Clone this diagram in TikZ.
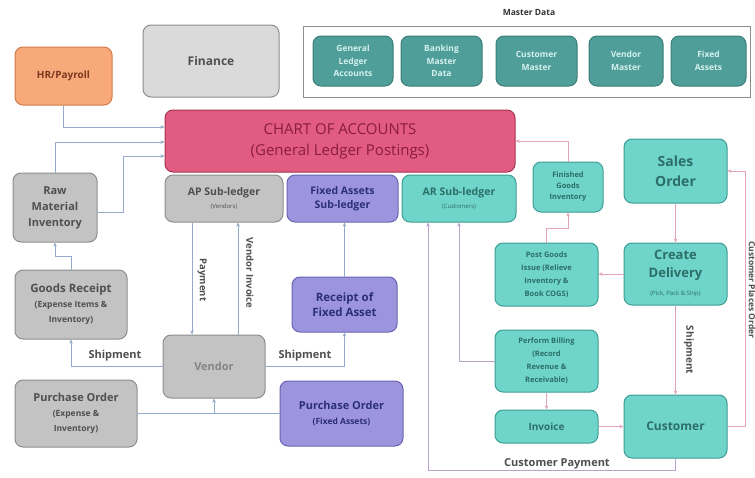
\documentclass[tikz,border=0pt]{standalone}
\usepackage{fontspec}
\setmainfont{Open Sans}
\usetikzlibrary{arrows.meta}
\definecolor{grayF}{HTML}{C3C3C3}
\definecolor{grayD}{HTML}{8E8E8E}
\definecolor{grayT}{HTML}{4F4F4F}
\definecolor{finF}{HTML}{DADADA}
\definecolor{tealDF}{HTML}{4F9E99}
\definecolor{tealDD}{HTML}{3C7E79}
\definecolor{tealDT}{HTML}{D5F1EE}
\definecolor{tealLF}{HTML}{6FD4CA}
\definecolor{tealLD}{HTML}{3E9E95}
\definecolor{tealLT}{HTML}{2C6E68}
\definecolor{purF}{HTML}{9C95DD}
\definecolor{purD}{HTML}{6B63B0}
\definecolor{purT}{HTML}{2B2F78}
\definecolor{pinkF}{HTML}{E25C82}
\definecolor{pinkD}{HTML}{A6334F}
\definecolor{pinkT}{HTML}{8A1C3E}
\definecolor{orF}{HTML}{F7A97A}
\definecolor{orD}{HTML}{D27C47}
\definecolor{orT}{HTML}{7A3820}
\definecolor{lineB}{HTML}{93AACB}
\definecolor{lineP}{HTML}{E3A3BE}
\definecolor{lineV}{HTML}{B5A3CC}
\newcommand\myfs[2]{\fontsize{#1}{#2}\selectfont}
\tikzset{
  box/.style={draw, line width=1pt, rounded corners=8pt, align=center, inner sep=1pt, font=\bfseries},
  gbox/.style={box, fill=grayF, draw=grayD, text=grayT},
  mbox/.style={box, fill=tealDF, draw=tealDD, text=tealDT, font=\bfseries\myfs{8.5}{12.5}, minimum width=80pt, minimum height=50pt},
  tbox/.style={box, fill=tealLF, draw=tealLD, text=tealLT},
  pbox/.style={box, fill=purF, draw=purD, text=purT},
  lconn/.style={draw=lineB, line width=0.8pt, -{Stealth[length=4pt,width=3.5pt]}},
  lline/.style={draw=lineB, line width=0.8pt},
  rconn/.style={draw=lineP, line width=0.8pt, -{Stealth[length=4pt,width=3.5pt]}},
  rline/.style={draw=lineP, line width=0.8pt},
  vconn/.style={draw=lineV, line width=0.8pt, -{Stealth[length=4pt,width=3.5pt]}},
  lab/.style={font=\bfseries, text=grayT, inner sep=1pt},
}
\begin{document}
\begin{tikzpicture}[x=1pt, y=-1pt]
\useasboundingbox[fill=white] (0,0) rectangle (755,477);

% top
\node[box, fill=orF, draw=orD, text=orT, font=\bfseries\myfs{10}{12}, minimum width=97pt, minimum height=58pt] (hr) at (63.5,76) {HR/Payroll};
\node[box, fill=finF, draw=grayD, text=grayT, font=\bfseries\myfs{12}{14}, minimum width=136pt, minimum height=72pt] (fin) at (211,61) {Finance};
\node[lab, font=\bfseries\myfs{8.5}{10}, text=black!80] (mdt) at (529,13) {Master Data};
\node[draw=grayD, line width=1pt, fill=white, minimum width=447pt, minimum height=71pt] (md) at (526.5,61.5) {};
\node[mbox] (gla) at (353,61) {General\\Ledger\\Accounts};
\node[mbox, minimum width=81pt] (bmd) at (441.5,61) {Banking\\Master\\Data};
\node[mbox, minimum width=81pt] (cm) at (536.5,61) {Customer\\Master};
\node[mbox, minimum width=74pt] (vm) at (626,61) {Vendor\\Master};
\node[mbox, minimum width=75pt] (fa) at (708.5,61) {Fixed\\Assets};

% chart of accounts and sub-ledgers
\node[box, fill=pinkF, draw=pinkD, text=pinkT, font=\myfs{15}{21}, minimum width=350pt, minimum height=62pt] (coa) at (340,141) {CHART OF ACCOUNTS\\(General Ledger Postings)};
\node[gbox, font=\bfseries\myfs{10.5}{13}, minimum width=118pt, minimum height=47pt] (ap) at (224,198.5) {AP Sub-ledger\\{\mdseries\myfs{6}{8}(Vendors)}};
\node[pbox, font=\bfseries\myfs{10.5}{14}, minimum width=111pt, minimum height=47pt] (fas) at (342.5,198.5) {Fixed Assets\\Sub-ledger};
\node[tbox, font=\bfseries\myfs{10.5}{13}, minimum width=114pt, minimum height=47pt] (ar) at (459,198.5) {AR Sub-ledger\\{\mdseries\myfs{6}{8}(Customers)}};

% left
\node[gbox, font=\bfseries\myfs{11}{16}, minimum width=84pt, minimum height=69pt] (raw) at (55,207.5) {Raw\\Material\\Inventory};
\node[gbox, font=\bfseries\myfs{11.5}{15}, minimum width=112pt, minimum height=69pt] (gr) at (71,304.5) {Goods Receipt\\{\myfs{8.5}{14}(Expense Items \&}\\{\myfs{8.5}{12}Inventory)}};
\node[gbox, font=\bfseries\myfs{11}{14}, text=grayT!70, minimum width=102pt, minimum height=63pt] (vendor) at (214,366.5) {Vendor};
\node[pbox, font=\bfseries\myfs{11.5}{15}, minimum width=105pt, minimum height=55pt] (rfa) at (344.5,304.5) {Receipt of\\Fixed Asset};
\node[gbox, font=\bfseries\myfs{11}{15}, minimum width=122pt, minimum height=67pt] (poe) at (76,413.5) {Purchase Order\\{\myfs{8.5}{13}(Expense \&}\\{\myfs{8.5}{12}Inventory)}};
\node[pbox, font=\bfseries\myfs{11}{15}, minimum width=123pt, minimum height=65pt] (pof) at (341.5,413.5) {Purchase Order\\{\myfs{8.5}{12}(Fixed Assets)}};

% right
\node[tbox, font=\bfseries\myfs{7.5}{11}, minimum width=70pt, minimum height=50pt] (fgi) at (568,187) {Finished\\Goods\\Inventory};
\node[tbox, font=\bfseries\myfs{7.5}{13}, minimum width=103pt, minimum height=63pt] (pgi) at (546.5,274.5) {Post Goods\\Issue (Relieve\\Inventory \&\\Book COGS)};
\node[tbox, font=\bfseries\myfs{14}{20}, minimum width=103pt, minimum height=64pt] (so) at (675.5,171) {Sales\\Order};
\node[tbox, font=\bfseries\myfs{13}{18}, minimum width=103pt, minimum height=62pt] (cd) at (675.5,274) {Create\\Delivery\\{\mdseries\myfs{6}{8}(Pick, Pack \& Ship)}};
\node[tbox, font=\bfseries\myfs{7.5}{13}, minimum width=103pt, minimum height=62pt] (pb) at (546.5,361) {Perform Billing\\(Record\\Revenue \&\\Receivable)};
\node[tbox, font=\bfseries\myfs{10}{12}, minimum width=103pt, minimum height=33pt] (inv) at (546.5,426.5) {Invoice};
\node[tbox, font=\bfseries\myfs{12}{14}, minimum width=103pt, minimum height=63pt] (cust) at (675.5,426.5) {Customer};

% left connectors
\draw[lconn] (hr.south) |- (coa.west |- 0,127);
\draw[lconn] (raw.north) |- (coa.west |- 0,142);
\draw[lconn] (raw.east |- 0,212) -- (123,212) |- (coa.west |- 0,156);
\draw[lconn] (gr.north) -- (71,256) -| (raw.south);
\draw[lconn] (ap.south -| 192,0) -- (vendor.north -| 192,0);
\draw[lconn] (vendor.north -| 238,0) -- (ap.south -| 238,0);
\node[lab, font=\bfseries\myfs{9.5}{11}, rotate=-90] (paylab) at (202,280) {Payment};
\node[lab, font=\bfseries\myfs{9.5}{11}, rotate=-90] (vilab) at (250,273) {Vendor Invoice};
\draw[lconn] (vendor.west) -| (gr.south);
\draw[lconn] (vendor.east) -| (rfa.south);
\node[lab, font=\bfseries\myfs{11}{13}] (shl) at (115,356) {Shipment};
\node[lab, font=\bfseries\myfs{11}{13}] (shr) at (305,356) {Shipment};
\draw[lconn] (rfa.north) -- (rfa.north |- fas.south);
\draw[lline] (poe.east) -- (pof.west);
\draw[lconn] (vendor.south |- poe.east) -- (vendor.south);

% right connectors
\draw[rconn] (fgi.north) |- (coa.east);
\draw[rconn] (pgi.north) -- (pgi.north |- 0,228) -| (fgi.south);
\draw[rconn] (so.south) -- (cd.north);
\draw[rconn] (cd.west) -- (pgi.east |- cd.west);
\draw[vconn] (pb.west) -| (ar.south);
\draw[rconn] (pb.south) -- (inv.north);
\draw[rconn] (inv.east) -- (cust.west);
\draw[rconn] (cd.south) -- (cust.north);
\node[lab, font=\bfseries\myfs{10}{12}, rotate=-90] (shc) at (689,350) {Shipment};
\draw[vconn] (cust.south) -- (cust.south |- 0,470) -| (ar.south -| 428,0);
\node[lab, font=\bfseries\myfs{11}{13}] (cpl) at (557,464) {Customer Payment};
\draw[rconn] (cust.east) -- (745,426.5) |- (so.east);
\node[lab, font=\bfseries\myfs{8.5}{10}, rotate=-90] (cpo) at (752,290) {Customer Places Order};
\end{tikzpicture}
\end{document}
